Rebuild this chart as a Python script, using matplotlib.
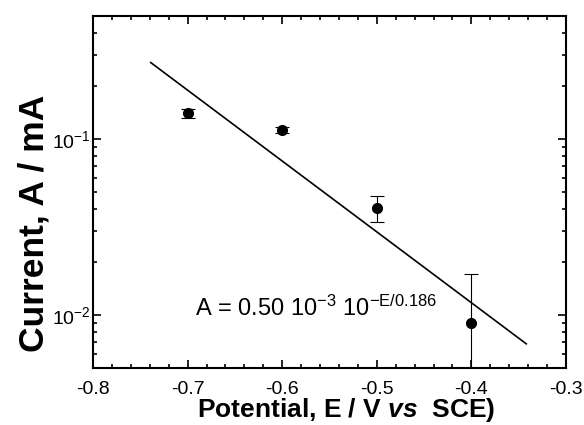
import matplotlib
matplotlib.use("Agg")
import matplotlib.pyplot as plt
from matplotlib.ticker import MultipleLocator, LogLocator, FixedFormatter, FixedLocator, NullFormatter

plt.rcParams["font.family"] = ["Liberation Sans", "DejaVu Sans"]
plt.rcParams["axes.unicode_minus"] = False
plt.rcParams["mathtext.fontset"] = "custom"
plt.rcParams["mathtext.rm"] = "Liberation Sans"
plt.rcParams["mathtext.it"] = "Liberation Sans:italic"
plt.rcParams["mathtext.bf"] = "Liberation Sans:bold"
plt.rcParams["mathtext.bfit"] = "Liberation Sans:bold:italic"
plt.rcParams["mathtext.default"] = "regular"

# measured points
potential = [-0.7, -0.6, -0.5, -0.4]
current = [0.140, 0.112, 0.0407, 0.0090]
current_err = [0.008, 0.0045, 0.007, 0.0082]

# fitted line end points
fit_E = [-0.739, -0.342]
fit_A = [0.272, 0.00686]

fig = plt.figure(figsize=(5.84, 4.25), dpi=100)
ax = fig.add_axes([93 / 584, 1 - 368 / 425, 473 / 584, 352 / 425])

ax.plot(fit_E, fit_A, color="black", lw=1.2)
ax.errorbar(potential, current, yerr=current_err, fmt="o", color="black",
            ms=7, ecolor="black", elinewidth=0.8, capsize=5, capthick=0.8)

ax.set_yscale("log")
ax.set_xlim(-0.8, -0.3)
ax.set_ylim(0.005, 0.5)

ax.xaxis.set_major_locator(MultipleLocator(0.1))
ax.xaxis.set_minor_locator(MultipleLocator(0.02))
ax.yaxis.set_major_locator(FixedLocator([0.01, 0.1]))
ax.yaxis.set_major_formatter(FixedFormatter(["10$^{-2}$", "10$^{-1}$"]))
ax.yaxis.set_minor_locator(LogLocator(base=10, subs=range(2, 10)))
ax.yaxis.set_minor_formatter(NullFormatter())

ax.tick_params(which="both", direction="in", top=True, right=True,
               width=1.2, labelsize=14)
ax.tick_params(which="major", length=6)
ax.tick_params(which="minor", length=3)
ax.tick_params(axis="x", pad=9)
ax.tick_params(axis="y", pad=2)
for s in ax.spines.values():
    s.set_linewidth(1.5)

ax.set_xlabel(r"Potential, E / V $\mathbfit{vs}$  SCE)", fontsize=19,
              fontweight="bold")
ax.xaxis.set_label_coords(0.535, -0.08)
ax.set_ylabel("Current, A / mA", fontsize=25.5, fontweight="bold")
ax.yaxis.set_label_coords(-0.09, 0.41)

ax.text(-0.692, 0.0099, r"A = 0.50 10$^{-3}$ 10$^{-E/0.186}$", fontsize=17,
        va="baseline", ha="left")

fig.savefig("out.png", dpi=100)
